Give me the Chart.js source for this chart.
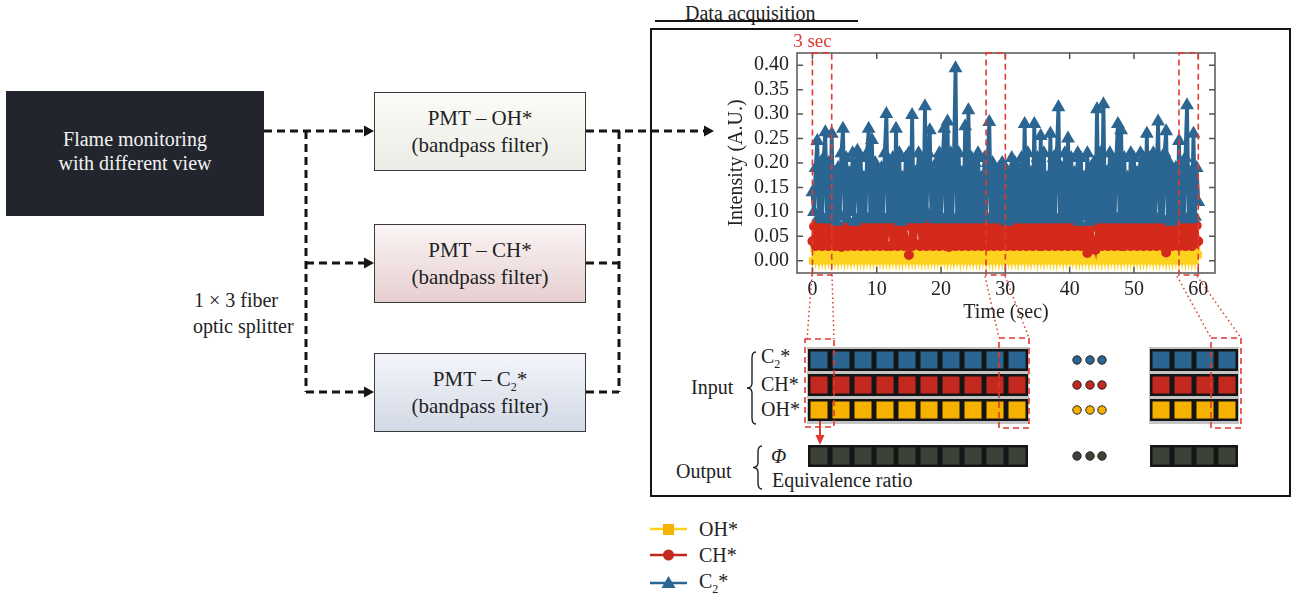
<!DOCTYPE html>
<html>
<head>
<meta charset="utf-8">
<script src="https://cdn.jsdelivr.net/npm/chart.js@4.4.1/dist/chart.umd.min.js"></script>
<style>
  body { margin: 0; width: 1298px; height: 604px; overflow: hidden; position: relative; background: #fff;
         font-family: "Liberation Serif", "DejaVu Serif", serif; color: #222; }
  .abs { position: absolute; }
  .src { left: 6px; top: 91px; width: 258px; height: 125px; background: #22252d; color: #f2f2f2;
         font-size: 20px; line-height: 24px; display: flex; align-items: center; justify-content: center;
         text-align: center; padding-bottom: 5px; box-sizing: border-box; }
  .pmt { left: 374px; width: 212px; height: 79px; border: 1.5px solid #3a3a3a; box-sizing: border-box;
         font-size: 21px; line-height: 27px; display: flex; align-items: center; justify-content: center; text-align: center; }
  sub { font-size: 12px; vertical-align: -5px; line-height: 0; }
  .lbl { font-size: 20px; line-height: 24px; white-space: nowrap; }
  #frame { left: 650px; top: 28px; width: 641px; height: 469px; border: 2.5px solid #151515; box-sizing: border-box; }
  #chartBox { left: 700px; top: 20px; width: 540px; height: 310px; }
</style>
</head>
<body>
<div class="abs lbl" style="left:685px;top:1px;font-size:20px">Data acquisition</div>
<div class="abs" style="left:655px;top:20px;width:203px;height:2px;background:#151515"></div>
<div class="abs" id="frame"></div>

<div class="abs src"><span>Flame monitoring<br>with different view</span></div>
<div class="abs pmt" style="top:92px;background:linear-gradient(#fbfbf8,#ecece6)"><span>PMT – OH*<br>(bandpass filter)</span></div>
<div class="abs pmt" style="top:224px;background:linear-gradient(#fbf4f4,#e6cfd1)"><span>PMT – CH*<br>(bandpass filter)</span></div>
<div class="abs pmt" style="top:353px;background:linear-gradient(#f3f5fa,#d3d9e6)"><span>PMT – C<sub>2</sub>*<br>(bandpass filter)</span></div>
<div class="abs lbl" style="left:194px;top:288px">1 × 3 fiber</div>
<div class="abs lbl" style="left:193px;top:314px">optic splitter</div>

<div class="abs lbl" style="left:761px;top:344px">C<sub>2</sub>*</div>
<div class="abs lbl" style="left:761px;top:372px">CH*</div>
<div class="abs lbl" style="left:761px;top:397px">OH*</div>
<div class="abs lbl" style="left:691px;top:375px">Input</div>
<div class="abs lbl" style="left:676px;top:459px">Output</div>
<div class="abs lbl" style="left:771px;top:444px;font-style:italic">Φ</div>
<div class="abs lbl" style="left:772px;top:468px">Equivalence ratio</div>

<div class="abs lbl" style="left:699px;top:517px">OH*</div>
<div class="abs lbl" style="left:699px;top:543px">CH*</div>
<div class="abs lbl" style="left:699px;top:569px">C<sub>2</sub>*</div>

<div class="abs" id="chartBox"><canvas id="chart" width="540" height="310"></canvas></div>
<svg class="abs" id="overlay" width="1298" height="604" style="left:0;top:0"></svg>

<script>
// signals, one value every 0.25 s from 0 to 60 s
const sampleStep = 0.25;
const xTicks = [0, 10, 20, 30, 40, 50, 60];
const yTicks = [0, 0.05, 0.10, 0.15, 0.20, 0.25, 0.30, 0.35, 0.40];
const windowRanges = [[0, 3], [27, 30], [57, 60]];

const ohValues = [
  0.0, 0.025, 0.002, 0.026, 0.0, 0.023, 0.001, 0.026, 0.0, 0.024,
  0.002, 0.026, 0.0, 0.024, 0.001, 0.026, 0.0, 0.023, 0.002, 0.027,
  0.0, 0.025, 0.001, 0.024, 0.0, 0.027, 0.002, 0.023, 0.0, 0.026,
  0.001, 0.024, 0.0, 0.026, 0.002, 0.025, 0.0, 0.023, 0.001, 0.026,
  0.0, 0.024, 0.002, 0.026, 0.0, 0.025, 0.001, 0.027, 0.0, 0.024,
  0.002, 0.026, 0.0, 0.023, 0.001, 0.028, 0.0, 0.025, 0.002, 0.026,
  0.0, 0.024, 0.001, 0.026, 0.0, 0.023, 0.002, 0.026, 0.0, 0.025,
  0.001, 0.027, 0.0, 0.024, 0.002, 0.026, 0.0, 0.023, 0.001, 0.026,
  0.0, 0.025, 0.002, 0.027, 0.0, 0.024, 0.001, 0.026, 0.0, 0.023,
  0.002, 0.026, 0.0, 0.025, 0.001, 0.024, 0.0, 0.027, 0.002, 0.025,
  0.0, 0.023, 0.001, 0.026, 0.0, 0.025, 0.002, 0.024, 0.0, 0.027,
  0.001, 0.025, 0.0, 0.028, 0.002, 0.024, 0.0, 0.026, 0.001, 0.025,
  0.0, 0.024, 0.002, 0.026, 0.0, 0.023, 0.001, 0.027, 0.0, 0.025,
  0.002, 0.026, 0.0, 0.024, 0.001, 0.026, 0.0, 0.023, 0.002, 0.027,
  0.0, 0.025, 0.001, 0.024, 0.0, 0.026, 0.002, 0.025, 0.0, 0.023,
  0.001, 0.027, 0.0, 0.024, 0.002, 0.026, 0.0, 0.025, 0.001, 0.024,
  0.0, 0.026, 0.002, 0.023, 0.0, 0.027, 0.001, 0.025, 0.0, 0.024,
  0.002, 0.026, 0.0, 0.025, 0.001, 0.023, 0.0, 0.026, 0.002, 0.027,
  0.0, 0.024, 0.001, 0.026, 0.0, 0.025, 0.002, 0.023, 0.0, 0.026,
  0.001, 0.025, 0.0, 0.027, 0.002, 0.024, 0.0, 0.026, 0.001, 0.023,
  0.0, 0.026, 0.002, 0.025, 0.0, 0.024, 0.001, 0.027, 0.0, 0.025,
  0.002, 0.023, 0.0, 0.026, 0.001, 0.025, 0.0, 0.024, 0.002, 0.027,
  0.0, 0.025, 0.001, 0.028, 0.0, 0.024, 0.002, 0.026, 0.0, 0.025,
  0.001, 0.024, 0.0, 0.026, 0.002, 0.027, 0.0, 0.025, 0.001, 0.026,
  0.012
];

const chValues = [
  0.04, 0.07, 0.03, 0.075, 0.035, 0.068, 0.03, 0.072, 0.035, 0.066,
  0.03, 0.07, 0.033, 0.065, 0.03, 0.072, 0.035, 0.068, 0.028, 0.07,
  0.032, 0.066, 0.03, 0.074, 0.033, 0.068, 0.03, 0.07, 0.035, 0.068,
  0.03, 0.072, 0.033, 0.066, 0.03, 0.075, 0.035, 0.068, 0.03, 0.07,
  0.033, 0.07, 0.03, 0.068, 0.035, 0.072, 0.03, 0.066, 0.086, 0.03,
  0.07, 0.035, 0.068, 0.03, 0.074, 0.033, 0.066, 0.03, 0.072, 0.035,
  0.012, 0.07, 0.03, 0.068, 0.035, 0.072, 0.108, 0.03, 0.07, 0.033,
  0.068, 0.03, 0.075, 0.033, 0.066, 0.03, 0.072, 0.035, 0.07, 0.03,
  0.07, 0.035, 0.072, 0.03, 0.068, 0.028, 0.075, 0.035, 0.07, 0.03,
  0.073, 0.032, 0.068, 0.03, 0.076, 0.035, 0.07, 0.03, 0.072, 0.033,
  0.068, 0.03, 0.074, 0.033, 0.07, 0.03, 0.066, 0.035, 0.075, 0.03,
  0.07, 0.032, 0.072, 0.03, 0.068, 0.035, 0.074, 0.03, 0.07, 0.033,
  0.072, 0.03, 0.068, 0.035, 0.07, 0.03, 0.074, 0.033, 0.066, 0.03,
  0.075, 0.035, 0.068, 0.03, 0.072, 0.033, 0.07, 0.03, 0.074, 0.035,
  0.068, 0.03, 0.072, 0.03, 0.07, 0.035, 0.066, 0.03, 0.074, 0.033,
  0.07, 0.03, 0.072, 0.035, 0.068, 0.03, 0.075, 0.033, 0.07, 0.03,
  0.072, 0.033, 0.068, 0.03, 0.074, 0.035, 0.07, 0.03, 0.066, 0.035,
  0.07, 0.016, 0.072, 0.03, 0.068, 0.035, 0.022, 0.07, 0.033, 0.072,
  0.03, 0.075, 0.035, 0.068, 0.03, 0.072, 0.033, 0.07, 0.03, 0.074,
  0.035, 0.068, 0.03, 0.072, 0.03, 0.07, 0.035, 0.066, 0.03, 0.074,
  0.033, 0.07, 0.03, 0.072, 0.035, 0.068, 0.03, 0.075, 0.033, 0.07,
  0.03, 0.072, 0.035, 0.068, 0.03, 0.074, 0.033, 0.07, 0.03, 0.072,
  0.017, 0.07, 0.033, 0.072, 0.03, 0.068, 0.035, 0.075, 0.03, 0.07,
  0.035, 0.072, 0.03, 0.068, 0.033, 0.074, 0.03, 0.07, 0.035, 0.072,
  0.04
];

const c2Values = [
  0.14, 0.10, 0.19, 0.245, 0.09, 0.20, 0.085, 0.21, 0.263, 0.09,
  0.20, 0.085, 0.26, 0.09, 0.17, 0.08, 0.19, 0.095, 0.22, 0.27,
  0.09, 0.21, 0.085, 0.18, 0.10, 0.22, 0.08, 0.19, 0.225, 0.09,
  0.21, 0.085, 0.17, 0.09, 0.22, 0.27, 0.09, 0.247, 0.085, 0.20,
  0.09, 0.18, 0.095, 0.19, 0.085, 0.22, 0.30, 0.09, 0.20, 0.10,
  0.21, 0.085, 0.27, 0.09, 0.22, 0.08, 0.17, 0.095, 0.21, 0.09,
  0.22, 0.085, 0.298, 0.09, 0.18, 0.095, 0.22, 0.085, 0.20, 0.09,
  0.316, 0.10, 0.22, 0.267, 0.09, 0.18, 0.085, 0.20, 0.09, 0.22,
  0.085, 0.21, 0.27, 0.09, 0.285, 0.095, 0.22, 0.085, 0.21, 0.394,
  0.09, 0.22, 0.085, 0.18, 0.095, 0.275, 0.09, 0.308, 0.085, 0.21,
  0.09, 0.20, 0.085, 0.22, 0.09, 0.17, 0.10, 0.21, 0.085, 0.20,
  0.284, 0.09, 0.20, 0.085, 0.18, 0.09, 0.19, 0.095, 0.20, 0.085,
  0.19, 0.08, 0.17, 0.09, 0.21, 0.085, 0.20, 0.09, 0.18, 0.085,
  0.21, 0.09, 0.28, 0.085, 0.22, 0.09, 0.18, 0.085, 0.28, 0.09,
  0.21, 0.085, 0.255, 0.09, 0.22, 0.085, 0.17, 0.095, 0.26, 0.09,
  0.21, 0.085, 0.22, 0.314, 0.09, 0.19, 0.085, 0.22, 0.09, 0.25,
  0.09, 0.21, 0.085, 0.18, 0.09, 0.22, 0.08, 0.21, 0.095, 0.17,
  0.09, 0.22, 0.08, 0.19, 0.085, 0.20, 0.09, 0.31, 0.085, 0.22,
  0.09, 0.32, 0.085, 0.18, 0.09, 0.22, 0.085, 0.20, 0.09, 0.21,
  0.28, 0.09, 0.267, 0.085, 0.21, 0.09, 0.17, 0.085, 0.22, 0.09,
  0.21, 0.085, 0.18, 0.09, 0.22, 0.085, 0.21, 0.09, 0.26, 0.085,
  0.21, 0.09, 0.22, 0.085, 0.17, 0.285, 0.09, 0.21, 0.085, 0.22,
  0.265, 0.085, 0.20, 0.08, 0.18, 0.09, 0.19, 0.085, 0.245, 0.09,
  0.20, 0.085, 0.21, 0.318, 0.09, 0.18, 0.085, 0.26, 0.09, 0.19,
  0.12
];

const OH_COLOR = '#fdd21e';
const CH_COLOR = '#d42a1c';
const C2_COLOR = '#2b6591';

const toPoints = vals => vals.map((v, i) => ({ x: i * sampleStep, y: v }));

// box around the plot, inward ticks and the 3 sec windows
const frameBox = {
  id: 'frameBox',
  afterDatasetsDraw(chart) {
    const { ctx, chartArea: a, scales: { x, y } } = chart;
    ctx.save();
    ctx.strokeStyle = '#555';
    ctx.lineWidth = 1.5;
    ctx.strokeRect(a.left, a.top, a.right - a.left, a.bottom - a.top);
    ctx.beginPath();
    xTicks.forEach(v => {
      const px = x.getPixelForValue(v);
      ctx.moveTo(px, a.bottom); ctx.lineTo(px, a.bottom - 6);
      ctx.moveTo(px, a.top); ctx.lineTo(px, a.top + 6);
    });
    yTicks.forEach(v => {
      const py = y.getPixelForValue(v);
      ctx.moveTo(a.left, py); ctx.lineTo(a.left + 6, py);
      ctx.moveTo(a.right, py); ctx.lineTo(a.right - 6, py);
    });
    ctx.stroke();

    ctx.strokeStyle = '#e0392e';
    ctx.lineWidth = 1.6;
    ctx.setLineDash([6, 4]);
    windowRanges.forEach(([t0, t1]) => {
      const l = x.getPixelForValue(t0), r = x.getPixelForValue(t1);
      ctx.strokeRect(l, a.top, r - l, a.bottom - a.top + 2);
    });
    ctx.setLineDash([]);
    ctx.fillStyle = '#e0392e';
    ctx.font = '19px "Liberation Serif", serif';
    ctx.textAlign = 'center';
    ctx.textBaseline = 'middle';
    ctx.fillText('3 sec', x.getPixelForValue(windowRanges[0][0]), a.top - 11);
    ctx.restore();
  }
};

const axisFont = { family: '"Liberation Serif", serif', size: 20 };

new Chart(document.getElementById('chart'), {
  type: 'line',
  data: {
    datasets: [
      { label: 'OH*', data: toPoints(ohValues), borderColor: OH_COLOR, backgroundColor: OH_COLOR,
        pointStyle: 'rect', pointRadius: 3, borderWidth: 3, order: 3 },
      { label: 'CH*', data: toPoints(chValues), borderColor: CH_COLOR, backgroundColor: CH_COLOR,
        pointStyle: 'circle', pointRadius: 3.4, borderWidth: 3.2, order: 2 },
      { label: 'C2*', data: toPoints(c2Values), borderColor: C2_COLOR, backgroundColor: C2_COLOR,
        pointStyle: 'triangle', pointRadius: 4.2, borderWidth: 3.8, order: 1 }
    ]
  },
  options: {
    responsive: false,
    animation: false,
    layout: { padding: { left: 25, top: 33, right: 25, bottom: 0 } },
    plugins: { legend: { display: false }, tooltip: { enabled: false } },
    elements: { point: { borderWidth: 0 }, line: { tension: 0 } },
    scales: {
      x: {
        type: 'linear', min: -2.4, max: 62.6,
        grid: { display: false, drawTicks: false },
        border: { display: false },
        afterBuildTicks: s => { s.ticks = xTicks.map(v => ({ value: v })); },
        afterFit: s => { s.height = 57; },
        ticks: { color: '#222', font: axisFont, padding: 5, maxRotation: 0 },
        title: { display: true, text: 'Time (sec)', color: '#222', font: axisFont, padding: { top: 0, bottom: 5 } }
      },
      y: {
        min: -0.025, max: 0.425,
        grid: { display: false, drawTicks: false },
        border: { display: false },
        afterBuildTicks: s => { s.ticks = yTicks.map(v => ({ value: v })); },
        afterFit: s => { s.width = 72; },
        ticks: { color: '#222', font: axisFont, padding: 8, callback: v => v.toFixed(2) },
        title: { display: true, text: 'Intensity (A.U.)', color: '#222', font: axisFont, padding: { top: 0, bottom: 0 } }
      }
    }
  },
  plugins: [frameBox]
});

// diagram lines, cell grid and legend keys
const svg = document.getElementById('overlay');
const NS = 'http://www.w3.org/2000/svg';
function add(tag, attrs) {
  const el = document.createElementNS(NS, tag);
  for (const k in attrs) el.setAttribute(k, attrs[k]);
  svg.appendChild(el);
  return el;
}
function dashed(d) { add('path', { d, fill: 'none', stroke: '#151515', 'stroke-width': 3, 'stroke-dasharray': '8 5' }); }
function arrowRight(x, y) { add('polygon', { points: `${x},${y} ${x - 10},${y - 5.5} ${x - 10},${y + 5.5}`, fill: '#151515' }); }

dashed('M264,131 H366'); arrowRight(374, 131);
dashed('M306,131 V392');
dashed('M306,263 H366'); arrowRight(374, 263);
dashed('M306,392 H366'); arrowRight(374, 392);
dashed('M586,131 H705'); arrowRight(714, 131);
dashed('M619,131 V392');
dashed('M586,263 H619');
dashed('M586,392 H619');

const rowTops = [349, 374, 399, 445];
const rowFills = [C2_COLOR, '#c4291f', '#f7b200', '#3c4238'];
const groups = [{ x: 808, n: 10 }, { x: 1150, n: 4 }];
groups.forEach(g => {
  add('rect', { x: g.x - 1, y: 347, width: g.n * 22 + 2, height: 77, fill: '#c4c4c4' });
  rowTops.forEach((ty, r) => {
    add('rect', { x: g.x, y: ty, width: g.n * 22, height: 22, fill: '#151515' });
    for (let i = 0; i < g.n; i++) {
      add('rect', { x: g.x + i * 22 + 2.5, y: ty + 2.5, width: 17, height: 17, fill: rowFills[r] });
    }
  });
});
rowTops.forEach((ty, r) => {
  [1077, 1090, 1102].forEach(cx => add('circle', { cx, cy: ty + 11, r: 4.2, fill: rowFills[r], stroke: '#222', 'stroke-width': 1 }));
});

function brace(x, y1, y2) {
  const xm = x - 4, xl = x - 9, ym = (y1 + y2) / 2;
  add('path', { d: `M${x},${y1} Q${xm},${y1} ${xm},${y1 + 6} L${xm},${ym - 5} Q${xm},${ym} ${xl},${ym} Q${xm},${ym} ${xm},${ym + 5} L${xm},${y2 - 6} Q${xm},${y2} ${x},${y2}`,
    fill: 'none', stroke: '#222', 'stroke-width': 1.4 });
}
brace(756, 352, 424);
brace(762, 446, 489);

const red = '#e0392e';
[[805, 339, 29, 88], [999, 338, 30, 90], [1211, 338, 30, 90]].forEach(([x, y, w, h]) =>
  add('rect', { x, y, width: w, height: h, fill: 'none', stroke: red, 'stroke-width': 1.6, 'stroke-dasharray': '6 4' }));
['M812,275 L807,339', 'M832,275 L834,339', 'M985,276 L999,338', 'M1005,276 L1029,338',
 'M1177,276 L1211,338', 'M1197,276 L1241,338'].forEach(d =>
  add('path', { d, fill: 'none', stroke: red, 'stroke-width': 1.5, 'stroke-dasharray': '1.5 3' }));
add('path', { d: 'M820,421 V436', stroke: red, 'stroke-width': 2 });
add('polygon', { points: '820,445 815.5,435 824.5,435', fill: red });

// legend keys
add('path', { d: 'M650,529 H687', stroke: OH_COLOR, 'stroke-width': 2.5 });
add('rect', { x: 663, y: 524, width: 11, height: 11, fill: '#f7b200' });
add('path', { d: 'M650,555 H687', stroke: '#c4291f', 'stroke-width': 2.5 });
add('circle', { cx: 668.5, cy: 555, r: 5.5, fill: '#c4291f' });
add('path', { d: 'M650,583 H687', stroke: C2_COLOR, 'stroke-width': 2.5 });
add('polygon', { points: '668.5,576 675.5,588 661.5,588', fill: C2_COLOR });
</script>
</body>
</html>
